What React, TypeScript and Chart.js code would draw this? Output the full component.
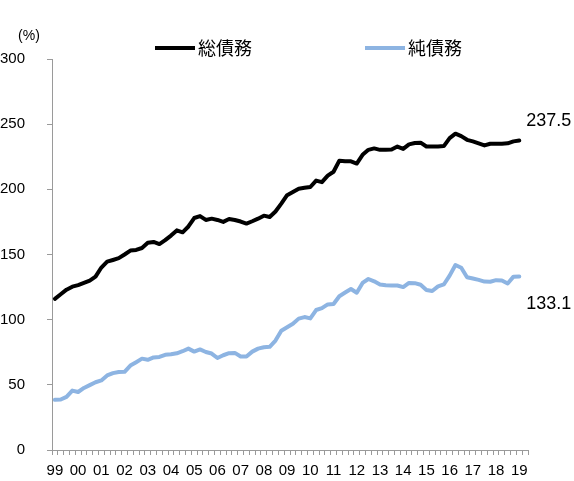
import { useEffect, useRef } from 'react';
import { Chart, registerables } from 'chart.js';

Chart.register(...registerables);

// Year tick labels (one per year, first quarter of each year)
const yearLabels = ['99', '00', '01', '02', '03', '04', '05', '06', '07', '08', '09', '10', '11', '12', '13', '14', '15', '16', '17', '18', '19'];
const quarterNames = ['Q1', 'Q2', 'Q3', 'Q4'];
const categoryCount = 82; // 1999Q1 .. 2019Q2 (last slot empty)
const categories = yearLabels.flatMap((y) => quarterNames.map((q) => `${y}${q}`)).slice(0, categoryCount);

// 総債務 (gross debt, % of GDP), quarterly 1999Q1 - 2019Q1
const grossDebt = [
  116, 119.5, 123, 125.3, 126.5, 128.2, 130, 133, 140, 144.5,
  145.8, 147.2, 150, 153, 153.5, 155, 159, 159.6, 158, 161,
  164.5, 168.5, 167, 171.5, 178, 179.5, 176.5, 177.5, 176.5, 175,
  177.2, 176.5, 175.3, 173.7, 175.5, 177.5, 179.8, 178.8, 183, 189,
  195.5, 198, 200.5, 201.2, 201.8, 206.7, 205.5, 210.5, 213.5, 222,
  221.5, 221.5, 219.8, 226.5, 230.3, 231.4, 230.3, 230.3, 230.5, 232.8,
  231, 234.5, 235.5, 235.8, 232.9, 232.9, 232.9, 233.2, 239.3, 242.7,
  240.8, 238, 236.8, 235.3, 233.7, 235, 235, 235, 235.3, 236.8,
  237.5,
];

// 純債務 (net debt, % of GDP), quarterly 1999Q1 - 2019Q1
const netDebt = [
  38.5, 38.7, 40.8, 45.6, 44.5, 47.6, 49.8, 52, 53.4, 57.2,
  59, 59.9, 60, 64.8, 67.4, 70.1, 69.2, 71, 71.4, 73,
  73.4, 74.2, 75.8, 77.8, 75.5, 77.2, 75.2, 74, 70.6, 72.7,
  74.3, 74.5, 71.8, 71.8, 75.5, 77.8, 78.8, 79.2, 84, 91.5,
  94.2, 96.8, 100.8, 102, 101, 107.4, 108.8, 111.7, 112, 118,
  120.8, 123.5, 120.7, 128.2, 131.2, 129.4, 127, 126.4, 126.3, 126.2,
  125, 128.2, 128, 126.8, 122.8, 122, 125.5, 127, 133.8, 141.9,
  139.8, 132.6, 131.6, 130.5, 129.2, 129.1, 130.3, 130.1, 127.8, 133,
  133.1,
];

const seriesNames = ['総債務', '純債務'];
const lastLabels = ['237.5', '133.1'];
const unitLabel = '(%)';

const SANS = "'Liberation Sans', Arial, sans-serif";
const JP = "'Noto Sans CJK JP', 'Noto Sans', sans-serif";
const AXIS_COLOR = '#9a9a9a';
const BLUE = '#8db4e2';

const overlayPlugin = {
  id: 'overlay',
  afterDraw(chart: any) {
    const ctx = chart.ctx;
    const xs = chart.scales.x;
    const ys = chart.scales.y;
    ctx.save();

    // unit label
    ctx.fillStyle = '#000';
    ctx.font = `14px ${SANS}`;
    ctx.textAlign = 'center';
    ctx.textBaseline = 'middle';
    ctx.fillText(unitLabel, 29, 36);

    // legend
    const legendItems = [
      { x: 155, color: '#000' },
      { x: 365, color: BLUE },
    ];
    chart.data.datasets.forEach((ds: any, i: number) => {
      const it = legendItems[i];
      ctx.strokeStyle = it.color;
      ctx.lineWidth = 4;
      ctx.lineCap = 'butt';
      ctx.beginPath();
      ctx.moveTo(it.x, 48);
      ctx.lineTo(it.x + 40, 48);
      ctx.stroke();
      ctx.fillStyle = '#000';
      ctx.font = `18px ${JP}`;
      ctx.textAlign = 'left';
      ctx.textBaseline = 'middle';
      ctx.fillText(ds.label, it.x + 43, 48);
    });

    // end value labels
    const offsets = [-19, 28];
    chart.data.datasets.forEach((ds: any, i: number) => {
      const lastIdx = ds.data.length - 1;
      const px = xs.getPixelForValue(lastIdx);
      const py = ys.getPixelForValue(ds.data[lastIdx]);
      ctx.fillStyle = '#000';
      ctx.font = `18px ${SANS}`;
      ctx.textAlign = 'left';
      ctx.textBaseline = 'middle';
      ctx.fillText(lastLabels[i], px + 7, py + offsets[i]);
    });
    ctx.restore();
  },
};

export default function App() {
  const canvasRef = useRef<HTMLCanvasElement | null>(null);

  useEffect(() => {
    const canvas = canvasRef.current;
    if (!canvas) return;
    const chart = new Chart(canvas, {
      type: 'line',
      data: {
        labels: categories,
        datasets: [
          {
            label: seriesNames[0],
            data: grossDebt,
            borderColor: '#000',
            backgroundColor: '#000',
            borderWidth: 4,
            pointRadius: 0,
            tension: 0,
            borderJoinStyle: 'round',
            borderCapStyle: 'round',
          },
          {
            label: seriesNames[1],
            data: netDebt,
            borderColor: BLUE,
            backgroundColor: BLUE,
            borderWidth: 4,
            pointRadius: 0,
            tension: 0,
            borderJoinStyle: 'round',
            borderCapStyle: 'round',
          },
        ],
      },
      options: {
        responsive: false,
        animation: false,
        layout: { padding: { top: 59, right: 46, left: 0, bottom: 0 } },
        plugins: {
          legend: { display: false },
          tooltip: { enabled: false },
        },
        scales: {
          x: {
            type: 'category',
            offset: true,
            grid: {
              display: true,
              offset: true,
              drawOnChartArea: false,
              drawTicks: true,
              tickLength: 5,
              color: AXIS_COLOR,
            },
            border: { display: true, color: AXIS_COLOR, width: 1 },
            ticks: {
              autoSkip: false,
              maxRotation: 0,
              minRotation: 0,
              padding: 7,
              color: '#000',
              font: { family: SANS, size: 15 },
              callback: (_v: any, idx: number) => (idx % 4 === 0 ? yearLabels[idx / 4] ?? '' : ''),
            },
            afterFit: (scale: any) => {
              scale.height = 27;
            },
          },
          y: {
            min: 0,
            max: 300,
            grid: {
              display: true,
              drawOnChartArea: false,
              drawTicks: true,
              tickLength: 5,
              color: AXIS_COLOR,
            },
            border: { display: true, color: AXIS_COLOR, width: 1 },
            ticks: {
              stepSize: 50,
              padding: 22,
              color: '#000',
              font: { family: SANS, size: 15 },
            },
            afterFit: (scale: any) => {
              scale.width = 52;
            },
          },
        },
      },
      plugins: [overlayPlugin],
    });
    return () => chart.destroy();
  }, []);

  return (
    <div style={{ position: 'absolute', left: 0, top: 0, width: 574, height: 481, background: '#fff' }}>
      <canvas ref={canvasRef} width={574} height={481} style={{ display: 'block' }} />
    </div>
  );
}
